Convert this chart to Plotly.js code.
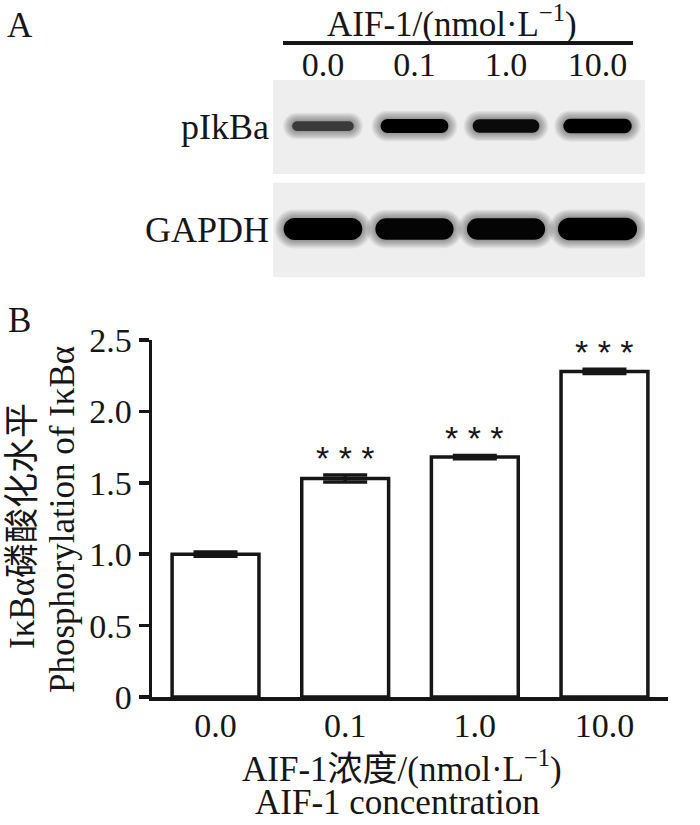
<!DOCTYPE html>
<html>
<head>
<meta charset="utf-8">
<script src="https://cdn.plot.ly/plotly-3.0.1.min.js"></script>
<style>
  html, body { margin: 0; padding: 0; background: #fff; }
  #chart { width: 700px; height: 825px; }
</style>
</head>
<body>
<div id="chart"></div>
<script>
// Panel B values (relative to control)
var lanes = ['0.0', '0.1', '1.0', '10.0'];
var phospho = [1.00, 1.53, 1.68, 2.28];
var phosphoErr = [0.015, 0.025, 0.012, 0.015];
var stars = ['', '* * *', '* * *', '* * *'];
var yTicks = [0, 0.5, 1.0, 1.5, 2.0, 2.5];
var yTickText = ['0', '0.5', '1.0', '1.5', '2.0', '2.5'];

// Panel A blot, relative band density per lane
var blotRows = ['pIkBa', 'GAPDH'];
var pIkBaDensity = [0.55, 1.0, 0.92, 1.05];
var gapdhDensity = [1.0, 0.97, 0.97, 1.03];

var serif = 'Liberation Serif';
var serifCjk = 'Liberation Serif, Noto Sans CJK SC';
var ink = '#161616';

// band look, per row (px sizes)
var bandStyle = {
  pIkBa: {row: 1, halfW: 0.37, halfH: 7},
  GAPDH: {row: 0, halfW: 0.43, halfH: 11}
};
var pxPerLane = 91.5, pxPerRow = 103;

function bandPath(cx, cy, hw, hh) {
  // rounded-end band; hw in lane units, hh in row units
  var r = Math.min(hh * pxPerRow / pxPerLane, hw);
  var k = 0.55;
  var L = cx - hw, R = cx + hw, T = cy + hh, B = cy - hh;
  return 'M' + (L + r) + ',' + T +
    ' L' + (R - r) + ',' + T +
    ' C' + (R - r + r * k) + ',' + T + ' ' + R + ',' + (cy + hh * k) + ' ' + R + ',' + cy +
    ' C' + R + ',' + (cy - hh * k) + ' ' + (R - r + r * k) + ',' + B + ' ' + (R - r) + ',' + B +
    ' L' + (L + r) + ',' + B +
    ' C' + (L + r - r * k) + ',' + B + ' ' + L + ',' + (cy - hh * k) + ' ' + L + ',' + cy +
    ' C' + L + ',' + (cy + hh * k) + ' ' + (L + r - r * k) + ',' + T + ' ' + (L + r) + ',' + T + ' Z';
}

var shapes = [];

// blot background strips
blotRows.forEach(function(name) {
  var row = bandStyle[name].row;
  shapes.push({
    type: 'rect', xref: 'x2 domain', yref: 'y2',
    x0: 0, x1: 1, y0: row - 0.465, y1: row + 0.45,
    fillcolor: '#eeeeee', line: {width: 0}, layer: 'below'
  });
});

function addBands(name, density) {
  var st = bandStyle[name];
  density.forEach(function(d, i) {
    var hw = st.halfW * (0.8 + 0.2 * Math.min(d, 1.05));
    var hh = st.halfH * Math.pow(Math.min(d, 1.05), 0.6) / pxPerRow;
    // soft halo
    for (var k = 7; k >= 1; k--) {
      shapes.push({
        type: 'path', xref: 'x2', yref: 'y2',
        path: bandPath(i, st.row, hw + k * 1.3 / pxPerLane, hh + k * 1.2 / pxPerRow),
        fillcolor: 'rgba(0,0,0,0.06)', line: {width: 0}
      });
    }
    var g = Math.max(0, Math.round((1 - d) * 130));
    shapes.push({
      type: 'path', xref: 'x2', yref: 'y2',
      path: bandPath(i, st.row, hw, hh),
      fillcolor: 'rgb(' + g + ',' + g + ',' + g + ')', line: {width: 0}
    });
  });
}
addBands('pIkBa', pIkBaDensity);
addBands('GAPDH', gapdhDensity);

// rule under the blot header
shapes.push({
  type: 'line', xref: 'paper', yref: 'paper',
  x0: 283 / 700, x1: 633 / 700, y0: 1 - 43 / 825, y1: 1 - 43 / 825,
  line: {color: ink, width: 4}
});

var bars = {
  x: lanes,
  y: phospho,
  type: 'bar',
  width: 0.67,
  marker: {color: '#ffffff', line: {color: ink, width: 3.5}},
  error_y: {type: 'data', array: phosphoErr, visible: true, color: ink, thickness: 3.5, width: 22},
  hoverinfo: 'x+y',
  xaxis: 'x', yaxis: 'y',
  showlegend: false
};

var blotAnchor = {
  x: [0, 1, 2, 3],
  y: [0, 0, 0, 0],
  mode: 'markers',
  type: 'scatter',
  marker: {opacity: 0},
  hoverinfo: 'skip',
  xaxis: 'x2', yaxis: 'y2',
  showlegend: false
};

var annotations = [
  {text: 'A', x: 20 / 700, y: 1 - 26 / 825},
  {text: 'B', x: 19 / 700, y: 1 - 320 / 825},
  {text: 'AIF-1/(nmol·L<sup>−1</sup>)', x: 452 / 700, y: 1 - 22 / 825},
  {text: 'AIF-1浓度/(nmol·L<sup>−1</sup>)', x: 402 / 700, y: 1 - 766 / 825, fam: serifCjk},
  {text: 'AIF-1 concentration', x: 397 / 700, y: 1 - 802 / 825},
  {text: 'IκBα磷酸化水平', x: 22 / 700, y: 1 - 526 / 825, textangle: -90, fam: serifCjk},
  {text: 'Phosphorylation of IκBα', x: 62 / 700, y: 1 - 520 / 825, textangle: -90}
].map(function(a) {
  var out = Object.assign({
    xref: 'paper', yref: 'paper', showarrow: false,
    xanchor: 'center', yanchor: 'middle',
    font: {family: a.fam || serif, size: 35, color: ink}
  }, a);
  delete out.fam;
  return out;
});

stars.forEach(function(s, i) {
  if (!s) return;
  annotations.push({
    text: s, x: i, y: phospho[i] + phosphoErr[i],
    xref: 'x', yref: 'y', showarrow: false,
    xanchor: 'center', yanchor: 'bottom', yshift: -4,
    font: {family: 'Liberation Sans', size: 34, color: ink}
  });
});

var layout = {
  width: 700,
  height: 825,
  margin: {l: 0, r: 0, t: 0, b: 0},
  paper_bgcolor: '#ffffff',
  plot_bgcolor: 'rgba(0,0,0,0)',
  font: {family: serif, color: ink},
  bargap: 0,
  xaxis: {
    domain: [152 / 700, 668 / 700],
    range: [-0.49, 3.49],
    type: 'category',
    showline: true, linecolor: ink, linewidth: 3.5,
    ticks: '', showgrid: false, zeroline: false,
    tickfont: {size: 34},
    ticklabelstandoff: -4,
    automargin: false
  },
  yaxis: {
    domain: [1 - 697 / 825, 1 - 340 / 825],
    range: [0, 2.5],
    tickvals: yTicks, ticktext: yTickText,
    showline: true, linecolor: ink, linewidth: 3.5,
    ticks: 'outside', ticklen: 10, tickwidth: 3.5, tickcolor: ink,
    showgrid: false, zeroline: false,
    tickfont: {size: 34},
    automargin: false
  },
  xaxis2: {
    domain: [273 / 700, 645 / 700],
    range: [-0.546, 3.519],
    anchor: 'y2', side: 'top',
    tickvals: [0, 1, 2, 3], ticktext: lanes,
    ticks: '', showline: false, showgrid: false, zeroline: false,
    tickfont: {size: 34},
    ticklabelstandoff: -4,
    automargin: false
  },
  yaxis2: {
    domain: [1 - 277 / 825, 1 - 80 / 825],
    range: [-0.466, 1.447],
    anchor: 'x2',
    tickvals: blotRows.map(function(n) { return bandStyle[n].row; }),
    ticktext: blotRows,
    ticks: '', showline: false, showgrid: false, zeroline: false,
    tickfont: {size: 36},
    ticklabelstandoff: 3,
    automargin: false
  },
  shapes: shapes,
  annotations: annotations
};

Plotly.newPlot('chart', [bars, blotAnchor], layout, {displayModeBar: false, staticPlot: true});
</script>
</body>
</html>
